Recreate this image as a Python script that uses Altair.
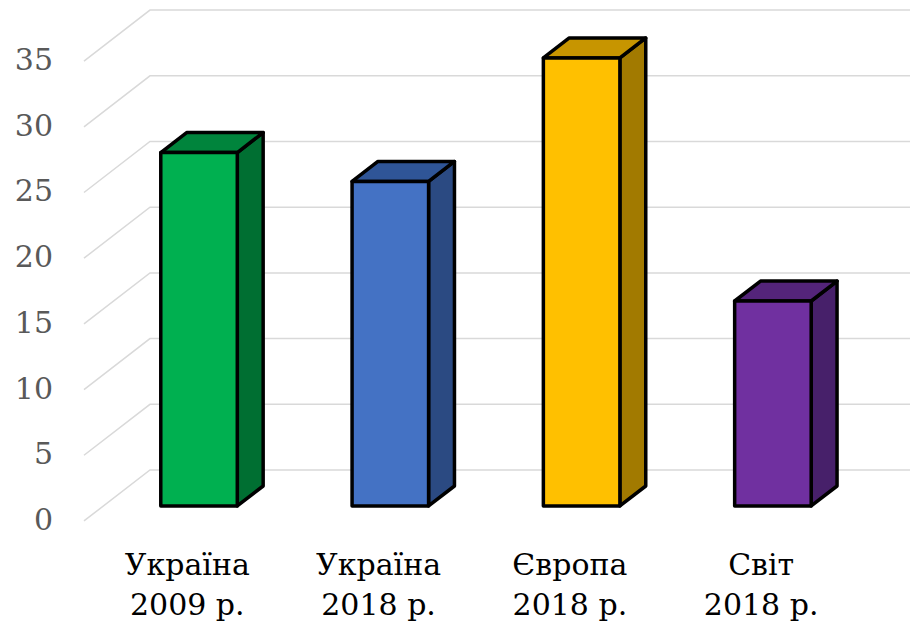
import altair as alt
import pandas as pd

# Chart data
categories = ["Україна\n2009 р.", "Україна\n2018 р.", "Європа\n2018 р.", "Світ\n2018 р."]
values = [26.9, 24.7, 34.1, 15.6]
tick_values = [0, 5, 10, 15, 20, 25, 30, 35]

# Face colours of each 3-D column: front, top, right side
front_colors = ["#00B050", "#4472C4", "#FFC000", "#7030A0"]
top_colors = ["#00843C", "#2F5597", "#C79500", "#54247A"]
side_colors = ["#006F32", "#2B4A82", "#A27A00", "#47206A"]

# Oblique projection of the floor depth, in axis units
DEPTH_X = 0.345   # horizontal shift across the full depth (category units)
DEPTH_Y = 3.88    # vertical shift across the full depth (value units)
BAR_FRONT = 0.294  # depth fraction where a column's front face sits
BAR_BACK = 0.686   # depth fraction of its back face
BAR_WIDTH = 0.4    # gap width 150 %
LABEL_SHIFT = 0.04

X_DOMAIN = [-0.439, 4.318]
Y_DOMAIN = [-8.07, 39.65]
n = len(values)

fx, fy = BAR_FRONT * DEPTH_X, BAR_FRONT * DEPTH_Y
bdx, bdy = (BAR_BACK - BAR_FRONT) * DEPTH_X, (BAR_BACK - BAR_FRONT) * DEPTH_Y

front_rows, side_rows, top_rows = [], [], []
for i, v in enumerate(values):
    x0 = i + 0.5 - BAR_WIDTH / 2 + fx
    x1 = x0 + BAR_WIDTH
    y0, y1 = fy, fy + v
    front_rows.append(dict(bar=i, x=x0, x2=x1, y=y0, y2=y1, fill=front_colors[i]))
    side_rows += [
        dict(bar=i, x=x1, lo=y0, hi=y1, fill=side_colors[i]),
        dict(bar=i, x=x1 + bdx, lo=y0 + bdy, hi=y1 + bdy, fill=side_colors[i]),
    ]
    top_rows += [
        dict(bar=i, x=x0, lo=y1, hi=y1, fill=top_colors[i]),
        dict(bar=i, x=x0 + bdx, lo=y1, hi=y1 + bdy, fill=top_colors[i]),
        dict(bar=i, x=x1, lo=y1, hi=y1 + bdy, fill=top_colors[i]),
        dict(bar=i, x=x1 + bdx, lo=y1 + bdy, hi=y1 + bdy, fill=top_colors[i]),
    ]

grid_rows = []
for t in tick_values:
    grid_rows += [
        dict(t=t, k=0, x=0.0, y=t),
        dict(t=t, k=1, x=DEPTH_X, y=t + DEPTH_Y),
        dict(t=t, k=2, x=n + DEPTH_X, y=t + DEPTH_Y),
    ]

front_df = pd.DataFrame(front_rows)
side_df = pd.DataFrame(side_rows)
top_df = pd.DataFrame(top_rows)
grid_df = pd.DataFrame(grid_rows)
ylab_df = pd.DataFrame({"x": [0.0] * len(tick_values), "y": tick_values,
                        "label": [str(t) for t in tick_values]})
cat_df = pd.DataFrame({"x": [i + 0.5 + LABEL_SHIFT for i in range(n)],
                       "y": [0.0] * n, "label": categories})

xs = alt.Scale(domain=X_DOMAIN, nice=False, zero=False)
ys = alt.Scale(domain=Y_DOMAIN, nice=False, zero=False)
FONT = "DejaVu Serif"

grid = alt.Chart(grid_df).mark_line(color="#D9D9D9", strokeWidth=1.5).encode(
    x=alt.X("x:Q", scale=xs, axis=None),
    y=alt.Y("y:Q", scale=ys, axis=None),
    detail="t:N",
    order="k:Q",
)

face_style = dict(stroke="black", strokeWidth=3.5, strokeJoin="round")

sides = alt.Chart(side_df).mark_area(**face_style).encode(
    x=alt.X("x:Q", scale=xs, axis=None),
    y=alt.Y("lo:Q", scale=ys, axis=None, stack=None),
    y2="hi:Q",
    detail="bar:N",
    fill=alt.Fill("fill:N", scale=None),
)

tops = alt.Chart(top_df).mark_area(**face_style).encode(
    x=alt.X("x:Q", scale=xs, axis=None),
    y=alt.Y("lo:Q", scale=ys, axis=None, stack=None),
    y2="hi:Q",
    detail="bar:N",
    fill=alt.Fill("fill:N", scale=None),
)

fronts = alt.Chart(front_df).mark_rect(**face_style).encode(
    x=alt.X("x:Q", scale=xs, axis=None),
    x2="x2:Q",
    y=alt.Y("y:Q", scale=ys, axis=None),
    y2="y2:Q",
    fill=alt.Fill("fill:N", scale=None),
)

ylabels = alt.Chart(ylab_df).mark_text(
    align="right", baseline="middle", dx=-31,
    font=FONT, fontSize=30, color="#595959",
).encode(
    x=alt.X("x:Q", scale=xs, axis=None),
    y=alt.Y("y:Q", scale=ys, axis=None),
    text="label:N",
)

catlabels = alt.Chart(cat_df).mark_text(
    align="center", baseline="alphabetic", dy=54, lineBreak="\n", lineHeight=40,
    font=FONT, fontSize=30, color="#000000",
).encode(
    x=alt.X("x:Q", scale=xs, axis=None),
    y=alt.Y("y:Q", scale=ys, axis=None),
    text="label:N",
)

chart = alt.layer(grid, sides, tops, fronts, ylabels, catlabels).properties(
    width=910, height=627, padding=0,
    autosize=alt.AutoSizeParams(type="none"),
    background="white",
).configure_view(stroke=None)

chart.save("out.html", embed_options={"renderer": "svg", "actions": False})
